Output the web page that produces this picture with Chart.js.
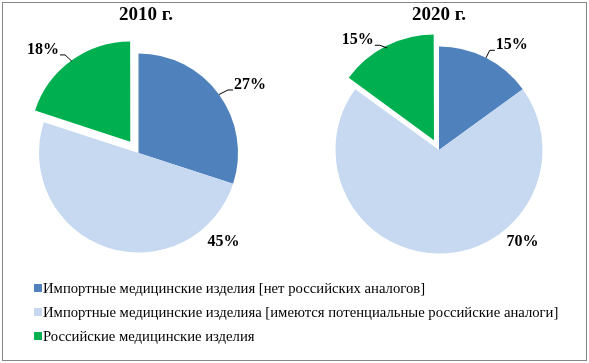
<!DOCTYPE html>
<html>
<head>
<meta charset="utf-8">
<script src="https://cdn.jsdelivr.net/npm/chart.js@4"></script>
<style>
html,body{margin:0;padding:0;background:#fff;width:589px;height:363px;overflow:hidden;}
#frame{position:absolute;left:2px;top:2px;width:585px;height:359px;box-sizing:border-box;border:1px solid #868686;}
canvas{position:absolute;top:0;}
#c1{left:0;}
#c2{left:290px;}
#legend{position:absolute;left:34px;top:276px;font-family:"Liberation Serif","Times New Roman","DejaVu Serif",serif;font-size:14.7px;color:#000;}
.row{height:24px;white-space:nowrap;display:flex;align-items:center;}
.box{width:8px;height:8px;margin-right:1px;flex:none;}
</style>
</head>
<body>
<div id="frame"></div>
<canvas id="c1" width="290" height="300"></canvas>
<canvas id="c2" width="299" height="300"></canvas>
<div id="legend"></div>
<script>
// ---- data ----
const categories = [
  'Импортные медицинские изделия [нет российских аналогов]',
  'Импортные медицинские изделияа [имеются потенциальные российские аналоги]',
  'Российские медицинские изделия'
];
const years = ['2010 г.', '2020 г.'];
const values2010 = [27, 45, 18];
const values2020 = [15, 70, 15];

// ---- styles ----
const colors = ['#4F81BD', '#C6D9F1', '#00B050'];

Chart.defaults.font.family = '"Liberation Serif", "Times New Roman", serif';
Chart.defaults.color = '#000';

const sliceLabels = {
  id: 'sliceLabels',
  afterDatasetsDraw(chart, args, opts) {
    const ctx = chart.ctx;
    const meta = chart.getDatasetMeta(0);
    const data = chart.data.datasets[0].data;
    ctx.save();
    ctx.font = 'bold 16px "Liberation Serif"';
    ctx.textAlign = 'center';
    ctx.textBaseline = 'middle';
    ctx.fillStyle = '#000';
    ctx.strokeStyle = '#000';
    ctx.lineWidth = 1;
    meta.data.forEach((arc, i) => {
      const p = opts.placement[i];
      const {x, y, startAngle, endAngle, outerRadius} =
        arc.getProps(['x', 'y', 'startAngle', 'endAngle', 'outerRadius'], true);
      const mid = (startAngle + endAngle) / 2;
      const shift = (arc.options.offset || 0) / 4;
      const a = (p.angle - 90) * Math.PI / 180;
      const lx = x + Math.cos(a) * p.dist;
      const ly = y + Math.sin(a) * p.dist;
      const text = data[i] + '%';
      if (p.leader) {
        const ex = x + Math.cos(mid) * (shift + outerRadius);
        const ey = y + Math.sin(mid) * (shift + outerRadius);
        const w = ctx.measureText(text).width;
        const side = ex < lx ? -1 : 1;
        const sx = lx + side * (w / 2 + 1);
        const hy = ly + 5;
        ctx.beginPath();
        ctx.moveTo(ex, ey);
        ctx.lineTo(sx + side * 5, hy);
        ctx.lineTo(sx, hy);
        ctx.stroke();
      }
      ctx.fillText(text, lx, ly);
    });
    ctx.restore();
  }
};

function makePie(id, title, values, offsets, radius, padding, titleAlign, placement) {
  return new Chart(document.getElementById(id), {
    type: 'pie',
    data: {
      labels: categories,
      datasets: [{
        data: values,
        backgroundColor: colors,
        borderWidth: 0,
        offset: offsets,
        hoverOffset: 0,
        clip: false
      }]
    },
    options: {
      responsive: false,
      animation: false,
      events: [],
      radius: radius,
      cutout: '0%',
      layout: { padding: padding },
      plugins: {
        legend: { display: false },
        tooltip: { enabled: false },
        title: {
          display: true,
          text: title,
          align: titleAlign,
          color: '#000',
          font: { size: 19, weight: 'bold', lineHeight: 1.2 },
          padding: { top: 4, bottom: 0 }
        },
        sliceLabels: { placement: placement }
      }
    },
    plugins: [sliceLabels]
  });
}

makePie('c1', years[0], values2010, [0, 0, 56], 99.5,
  { left: 104, right: 117, top: 0, bottom: 20.8 }, 'end',
  [
    { angle: 58.6, dist: 130.6, leader: true },
    { angle: 136.3, dist: 123, leader: false },
    { angle: -42.8, dist: 140.5, leader: true }
  ]);

makePie('c2', years[1], values2020, [0, 0, 44], 103.5,
  { left: 0, right: 1, top: 0, bottom: 26.8 }, 'center',
  [
    { angle: 34.8, dist: 127.5, leader: true },
    { angle: 137.6, dist: 124, leader: false },
    { angle: -36.5, dist: 136.5, leader: true }
  ]);

// HTML legend built from the categories
const legend = document.getElementById('legend');
categories.forEach((c, i) => {
  const row = document.createElement('div');
  row.className = 'row';
  const box = document.createElement('span');
  box.className = 'box';
  box.style.background = colors[i];
  const t = document.createElement('span');
  t.textContent = c;
  row.appendChild(box);
  row.appendChild(t);
  legend.appendChild(row);
});
</script>
</body>
</html>
